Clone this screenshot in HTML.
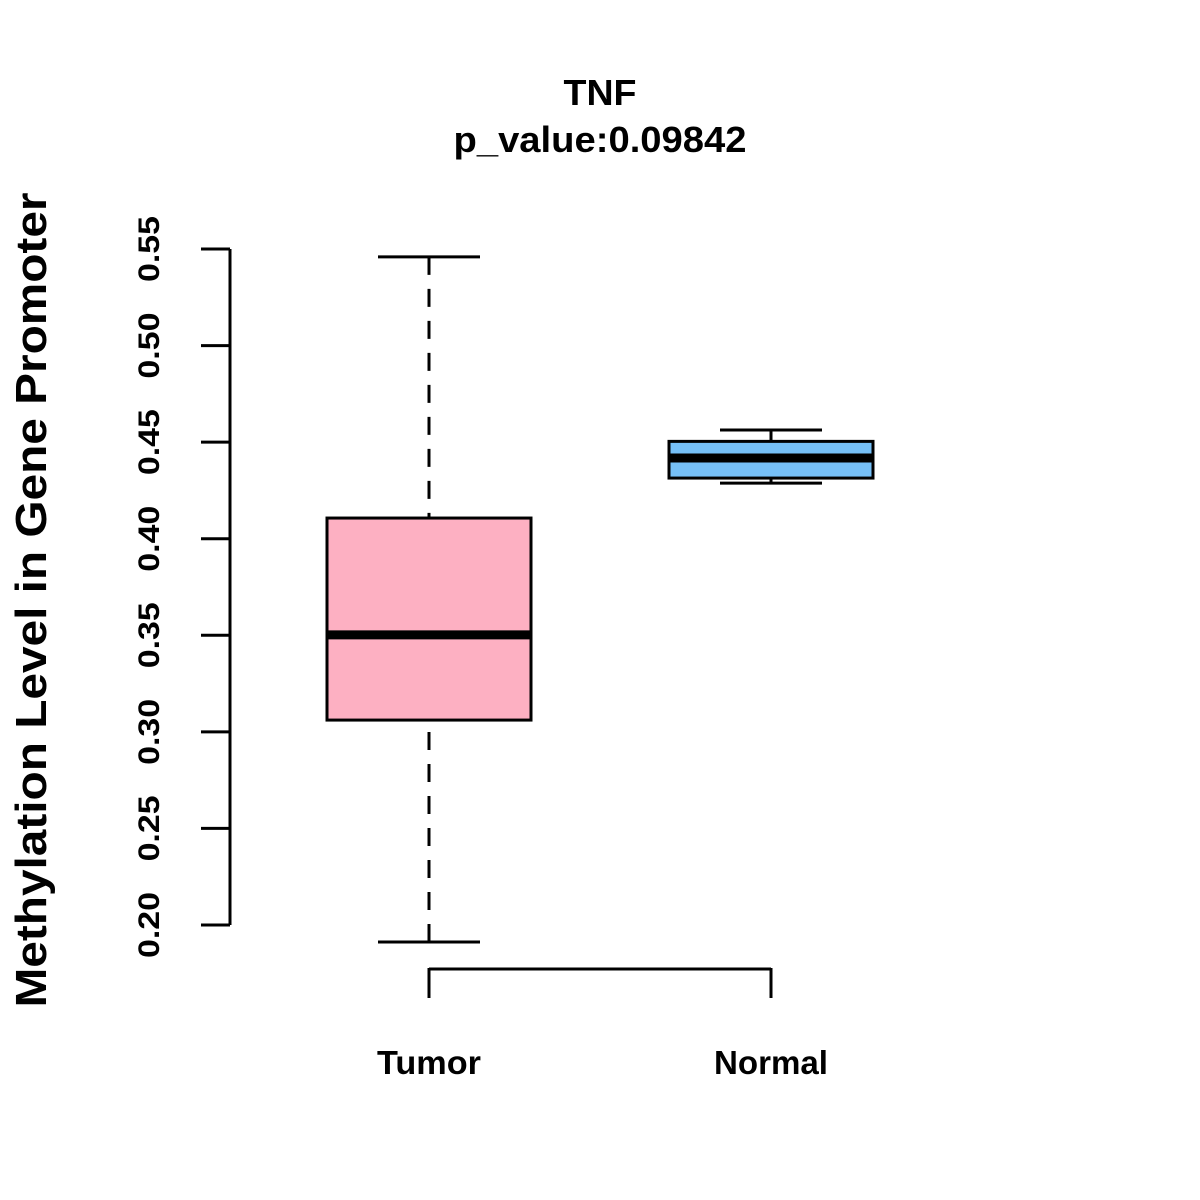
<!DOCTYPE html>
<html><head><meta charset="utf-8"><style>
html,body{margin:0;padding:0;background:#fff;}
svg{display:block;font-family:"Liberation Sans",Arial,sans-serif;font-weight:bold;}
</style></head><body>
<svg id="chart" width="1200" height="1200" viewBox="0 0 1200 1200">
<rect width="1200" height="1200" fill="#fff"/>
<text x="600" y="105" text-anchor="middle" font-size="36" textLength="73" lengthAdjust="spacingAndGlyphs">TNF</text>
<text x="600" y="152" text-anchor="middle" font-size="36" textLength="293" lengthAdjust="spacingAndGlyphs">p_value:0.09842</text>
<text transform="translate(46,600) rotate(-90)" text-anchor="middle" font-size="44" textLength="815" lengthAdjust="spacingAndGlyphs">Methylation Level in Gene Promoter</text>
<g id="yaxis"></g>
<g id="xaxis"></g>
<g id="boxes"></g>
</svg>
<script>
const categories = ["Tumor", "Normal"];
const lowerWhisker = [0.1912, 0.4288];
const q1Values = [0.3061, 0.4314];
const medianValues = [0.3502, 0.4418];
const q3Values = [0.4107, 0.4504];
const upperWhisker = [0.5459, 0.4563];
const colors = ["#FDB0C2", "#76C0F7"];
const yTicks = [0.20, 0.25, 0.30, 0.35, 0.40, 0.45, 0.50, 0.55];

const NS = "http://www.w3.org/2000/svg";
function y(v){ return 925 - (v - 0.2) / 0.35 * 676; }
function x(i){ return 429 + i * 342; }
function mk(tag, attrs, parent){
  const e = document.createElementNS(NS, tag);
  for (const k in attrs) e.setAttribute(k, attrs[k]);
  parent.appendChild(e); return e;
}
const ya = document.getElementById('yaxis');
let l = mk('line', {x1:230, x2:230, y1:y(yTicks[0]), y2:y(yTicks[yTicks.length-1]), stroke:'#000','stroke-width':3}, ya);


yTicks.forEach(t => {
  const tk = mk('line', {x1:201, x2:230, y1:y(t), y2:y(t), stroke:'#000','stroke-width':3}, ya);
  
  
  const tx = mk('text', {transform:`translate(159,${y(t)}) rotate(-90)`, 'text-anchor':'middle', 'font-size':30, textLength:66, lengthAdjust:'spacingAndGlyphs'}, ya);
  tx.textContent = t.toFixed(2);
  
  
});
const xLabelWidths = [104, 114];
const xa = document.getElementById('xaxis');
const xl = mk('line', {x1:x(0), x2:x(categories.length-1), y1:969, y2:969, stroke:'#000','stroke-width':3}, xa);


categories.forEach((c, i) => {
  const tk = mk('line', {x1:x(i), x2:x(i), y1:968, y2:998, stroke:'#000','stroke-width':3}, xa);
  
  
  const tx = mk('text', {x:x(i), y:1074, 'text-anchor':'middle', 'font-size':33, textLength:xLabelWidths[i], lengthAdjust:'spacingAndGlyphs'}, xa);
  tx.textContent = c;
  
  
});
const bx = document.getElementById('boxes');
categories.forEach((c, i) => {
  const cx = x(i);
  const g = mk('g', {}, bx);
  
  
  mk('line', {x1:cx, x2:cx, y1:y(upperWhisker[i]), y2:y(q3Values[i]), stroke:'#000','stroke-width':3,'stroke-dasharray':'18,14'}, g);
  mk('line', {x1:cx, x2:cx, y1:y(lowerWhisker[i]), y2:y(q1Values[i]), stroke:'#000','stroke-width':3,'stroke-dasharray':'18,14'}, g);
  mk('line', {x1:cx-51, x2:cx+51, y1:y(upperWhisker[i]), y2:y(upperWhisker[i]), stroke:'#000','stroke-width':3}, g);
  mk('line', {x1:cx-51, x2:cx+51, y1:y(lowerWhisker[i]), y2:y(lowerWhisker[i]), stroke:'#000','stroke-width':3}, g);
  mk('rect', {x:cx-102, y:y(q3Values[i]), width:204, height:y(q1Values[i])-y(q3Values[i]), fill:colors[i], stroke:'#000','stroke-width':3}, g);
  mk('line', {x1:cx-102, x2:cx+102, y1:y(medianValues[i]), y2:y(medianValues[i]), stroke:'#000','stroke-width':9}, g);
});
</script>
</body></html>
